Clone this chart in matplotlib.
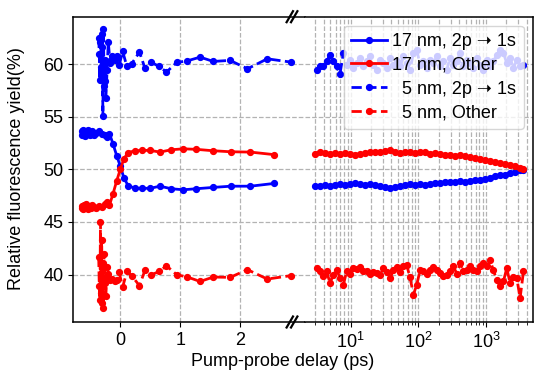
import numpy as np
import matplotlib
matplotlib.use('Agg')
import matplotlib.pyplot as plt
from matplotlib.lines import Line2D
from matplotlib.ticker import LogLocator

plt.rcParams['font.family'] = ['Liberation Sans', 'DejaVu Sans']
plt.rcParams['font.size'] = 13
plt.rcParams['mathtext.fontset'] = 'custom'
plt.rcParams['mathtext.rm'] = 'Liberation Sans'
plt.rcParams['mathtext.it'] = 'Liberation Sans:italic'
plt.rcParams['mathtext.bf'] = 'Liberation Sans:bold'

# ---------------- data: 17 nm, short delays (ps, linear) ----------------
x17_short = [-0.64, -0.63, -0.62, -0.61, -0.60, -0.58, -0.57, -0.55, -0.53, -0.51,
             -0.49, -0.47, -0.44, -0.40, -0.36, -0.31, -0.26, -0.22, -0.18, -0.12,
             -0.06, 0.00, 0.06, 0.13, 0.25, 0.37, 0.50, 0.66, 0.85, 1.05,
             1.27, 1.54, 1.84, 2.17, 2.56]
b17_short = [53.6, 53.3, 53.7, 53.4, 53.5, 53.2, 53.6, 53.4, 53.7, 53.3,
             53.5, 53.6, 53.3, 53.5, 53.6, 53.4, 53.3, 53.1, 53.4, 52.4,
             51.3, 50.3, 49.2, 48.45, 48.2, 48.2, 48.2, 48.4, 48.16, 48.06,
             48.16, 48.28, 48.4, 48.4, 48.66]
r17_short = [46.3, 46.5, 46.2, 46.6, 46.4, 46.3, 46.7, 46.4, 46.2, 46.5,
             46.3, 46.6, 46.4, 46.3, 46.5, 46.4, 46.7, 46.9, 46.6, 47.7,
             48.9, 50.0, 51.0, 51.6, 51.77, 51.8, 51.8, 51.64, 51.86, 51.95,
             51.9, 51.77, 51.67, 51.64, 51.4]

# ---------------- data: 17 nm, long delays (ps, log) ----------------
x17_long = [2.96, 3.52, 4.17, 4.94, 5.86, 6.95, 8.23, 9.76, 11.6, 13.7,
            16.3, 19.3, 22.9, 27.1, 32.1, 38.1, 45.2, 53.5, 63.4, 75.2,
            89.1, 106, 125, 149, 176, 209, 248, 294, 348, 412,
            489, 580, 687, 815, 966, 1145, 1358, 1610, 1910, 2264,
            2685, 3184, 3565]
b17_long = [48.44, 48.38, 48.51, 48.44, 48.54, 48.63, 48.51, 48.60, 48.73, 48.60,
            48.51, 48.60, 48.47, 48.38, 48.31, 48.19, 48.31, 48.44, 48.51, 48.63,
            48.51, 48.60, 48.51, 48.63, 48.73, 48.66, 48.76, 48.82, 48.76, 48.85,
            48.79, 48.92, 48.98, 49.01, 49.11, 49.17, 49.33, 49.42, 49.49, 49.65,
            49.77, 49.90, 49.96]
r17_long = [51.48, 51.61, 51.54, 51.48, 51.51, 51.45, 51.54, 51.48, 51.39, 51.48,
            51.54, 51.64, 51.61, 51.67, 51.70, 51.80, 51.67, 51.58, 51.61, 51.67,
            51.54, 51.64, 51.61, 51.48, 51.58, 51.45, 51.39, 51.35, 51.29, 51.32,
            51.23, 51.17, 51.10, 51.01, 50.91, 50.82, 50.69, 50.59, 50.47, 50.37,
            50.28, 50.12, 50.02]

# ---------------- data: 5 nm, short delays ----------------
x5_short = [-0.36, -0.35, -0.34, -0.33, -0.32, -0.31, -0.30, -0.29, -0.28, -0.27,
            -0.26, -0.25, -0.24, -0.22, -0.20, -0.17, -0.13, -0.09, -0.05, -0.02,
            0.04, 0.11, 0.19, 0.32, 0.41, 0.52, 0.65, 0.77, 0.94, 1.12,
            1.33, 1.55, 1.83, 2.12, 2.45, 2.84]
b5_short = [62.5, 61.0, 58.5, 62.1, 59.7, 61.6, 62.9, 55.1, 63.3, 57.9,
            60.4, 58.4, 56.8, 59.4, 62.1, 60.1, 60.72, 60.41, 60.72, 59.87,
            61.2, 59.77, 60.03, 61.14, 59.62, 60.15, 59.77, 59.24, 60.15, 60.31,
            60.66, 60.25, 60.35, 59.55, 60.5, 60.19]
r5_short = [41.7, 38.9, 37.6, 45.0, 38.3, 43.3, 37.3, 41.1, 36.8, 42.0,
            39.2, 39.8, 38.0, 40.7, 40.1, 39.5, 39.6, 39.35, 39.51, 40.21,
            38.82, 40.3, 39.9, 38.95, 40.4, 39.99, 40.3, 40.84, 39.99, 39.77,
            39.35, 39.77, 39.74, 40.47, 39.58, 39.9]

# ---------------- data: 5 nm, long delays ----------------
x5_long = [3.14, 3.52, 3.94, 4.42, 4.94, 5.54, 6.21, 6.95, 7.79, 8.72,
           9.77, 10.9, 12.3, 13.7, 15.4, 17.2, 19.3, 21.6, 24.2, 27.2,
           30.4, 34.0, 38.2, 42.8, 47.9, 53.7, 60.1, 67.3, 75.4, 84.5,
           94.6, 106, 119, 133, 149, 167, 187, 209, 235, 263,
           294, 330, 370, 414, 463, 520, 582, 652, 730, 818,
           916, 1026, 1151, 1288, 1442, 1618, 1811, 2028, 2270, 2547,
           2851, 3192, 3581]
b5_long = [59.46, 59.84, 59.77, 60.25, 60.88, 60.25, 59.77, 59.08, 61.04, 59.93,
           60.41, 59.62, 60.09, 60.57, 59.77, 60.25, 60.72, 59.93, 59.46, 60.41,
           60.09, 59.62, 60.57, 59.93, 60.25, 59.77, 60.72, 60.09, 59.46, 61.04,
           61.36, 59.93, 60.25, 59.62, 60.41, 60.09, 60.72, 59.77, 60.25, 59.46,
           60.57, 59.93, 60.25, 61.04, 59.77, 60.41, 60.09, 59.62, 60.57, 59.93,
           59.46, 60.41, 59.77, 60.25, 60.88, 61.36, 61.04, 60.09, 60.57, 59.62,
           60.41, 59.77, 59.93]
r5_long = [40.62, 40.31, 39.90, 40.31, 39.20, 39.99, 40.46, 39.67, 39.04, 40.31,
           40.09, 40.62, 40.53, 40.69, 40.31, 40.34, 40.05, 40.21, 40.12, 39.96,
           40.62, 40.21, 39.64, 40.46, 40.71, 40.24, 40.78, 40.88, 39.74, 38.09,
           39.04, 40.40, 40.31, 40.02, 40.40, 40.71, 40.46, 40.15, 39.83, 39.96,
           40.31, 40.78, 40.09, 41.10, 40.31, 40.40, 40.78, 40.46, 40.31, 40.78,
           41.10, 40.78, 41.35, 40.40, 39.52, 38.88, 39.36, 40.62, 39.20, 39.77,
           39.67, 37.77, 40.31]

labels = ['17 nm, 2p \u279D 1s', '17 nm, Other', '  5 nm, 2p \u279D 1s', '  5 nm, Other']
ylabel = 'Relative fluorescence yield(%)'
xlabel = 'Pump-probe delay (ps)'

# ---------------- layout (pixels) ----------------
W, H = 543, 380
L, R, B, T, SPLIT, BRK = 73, 532.7, 322, 16.7, 305, 292
fig = plt.figure(figsize=(W / 100, H / 100), dpi=100)
axL = fig.add_axes([L / W, 1 - B / H, (SPLIT - L) / W, (B - T) / H])
axR = fig.add_axes([SPLIT / W, 1 - B / H, (R - SPLIT) / W, (B - T) / H])

kw = dict(lw=2.0, ms=4.2, marker='o')
gkw = dict(ls='--', color='#b3b3b3', lw=0.9)

for ax in (axL, axR):
    ax.set_ylim(35.5, 64.5)
    ax.set_yticks([40, 45, 50, 55, 60])
    ax.set_axisbelow(True)
    for s in ax.spines.values():
        s.set_linewidth(1.1)

# left axis (linear)
axL.plot(x17_short, b17_short, color='blue', ls='-', **kw)
axL.plot(x17_short, r17_short, color='red', ls='-', **kw)
axL.plot(x5_short, b5_short, color='blue', ls='--', **kw)
axL.plot(x5_short, r5_short, color='red', ls='--', **kw)
axL.set_xlim(-0.788, (SPLIT - 120.3) / 60.0 + 0.0)
axL.set_xticks([0, 1, 2])
axL.grid(True, **gkw)
axL.spines['right'].set_visible(False)

# right axis (log)
l1, = axR.plot(x17_long, b17_long, color='blue', ls='-', label=labels[0], **kw)
l2, = axR.plot(x17_long, r17_long, color='red', ls='-', label=labels[1], **kw)
l3, = axR.plot(x5_long, b5_long, color='blue', ls='--', label=labels[2], **kw)
l4, = axR.plot(x5_long, r5_long, color='red', ls='--', label=labels[3], **kw)
axR.set_xscale('log')
axR.set_xlim(10 ** (1 + (SPLIT - 350.7) / 67.65), 10 ** (1 + (R - 350.7) / 67.65))
axR.xaxis.set_major_locator(LogLocator(base=10))
axR.xaxis.set_minor_locator(LogLocator(base=10, subs=np.arange(2, 10)))
axR.grid(True, which='major', **gkw)
axR.grid(True, which='minor', axis='x', **gkw)
axR.spines['left'].set_visible(False)
axR.tick_params(axis='y', left=False, labelleft=False)
axR.tick_params(axis='x', which='minor', length=2.5)

leg = axR.legend(handles=[l1, l2, l3, l4], loc='upper right', fontsize=13,
                 labelspacing=0.38, borderpad=0.4, handlelength=2.0,
                 handletextpad=0.3, framealpha=0.8)

# break marks
def brk(cx, cy):
    for dx in (-2.2, 2.2):
        xs = [(cx + dx - 3.2) / W, (cx + dx + 3.2) / W]
        ys = [1 - (cy + 5.5) / H, 1 - (cy - 5.5) / H]
        fig.add_artist(Line2D(xs, ys, color='black', lw=1.6, transform=fig.transFigure))

brk(BRK, T)
brk(BRK, B)

fig.text(283 / W, 1 - 361 / H, xlabel, ha='center', va='center', fontsize=13)
fig.text(17 / W, 1 - 169 / H, ylabel, ha='center', va='center', rotation=90, fontsize=13)

fig.savefig('out.png', dpi=100)
